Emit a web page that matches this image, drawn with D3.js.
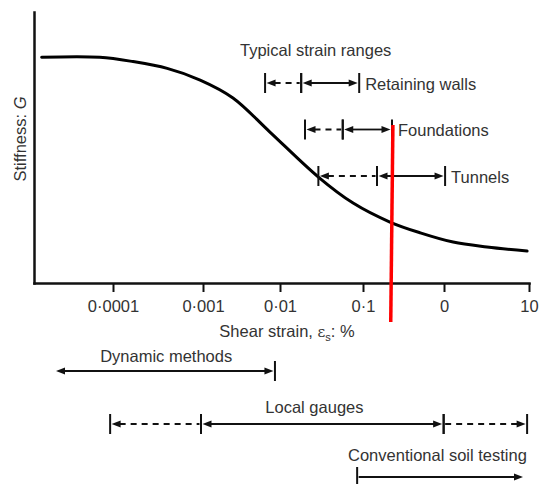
<!DOCTYPE html>
<html>
<head>
<meta charset="utf-8">
<script src="https://cdn.jsdelivr.net/npm/d3@7"></script>
<style>
  body { margin: 0; background: #fff; }
  svg { display: block; }
  text { font-family: "Liberation Sans", Arial, sans-serif; }
</style>
</head>
<body>
<svg id="chart" width="540" height="484"></svg>
<script>
// Shear-strain axis (log, %)
const strainTicks = [1e-4, 1e-3, 1e-2, 0.1, 1, 10];
const tickLabels = ["0·0001", "0·001", "0·01", "0·1", "0", "10"];

// Stiffness degradation curve (normalised G against shear strain %)
const curveStrain    = [1.25e-5, 6.8e-5, 1.67e-4, 4.0e-4, 9.3e-4, 2.45e-3, 7.4e-3, 0.029, 0.076, 0.215, 0.51, 1.28, 3.2, 9.5];
const curveStiffness = [0.833, 0.833, 0.817, 0.792, 0.749, 0.683, 0.557, 0.391, 0.295, 0.225, 0.185, 0.151, 0.133, 0.118];

// Red marker line (strain %, normalised G) at its two ends
const markerStrain    = [0.234, 0.22];
const markerStiffness = [0.583, -0.144];

// Typical strain ranges of structures: dashed from start to mid, solid from mid to end
const rangeNames  = ["Retaining walls", "Foundations", "Tunnels"];
const rangeStart  = [0.0064, 0.020, 0.029];
const rangeMid    = [0.018, 0.057, 0.149];
const rangeEnd    = [0.09, 0.228, 1.03];

// Measuring methods and the strain spans they cover
const methodNames   = ["Dynamic methods", "Local gauges", "Conventional soil testing"];
const methodLabelAt = [3.9e-4, 0.026, 0.83];
const methodSegments = [
  { row: 0, from: 1.9e-5,  to: 0.0086, dashed: false, headFrom: true,  headTo: true,  tickFrom: false, tickTo: true },
  { row: 1, from: 9.2e-5,  to: 9.5e-4, dashed: true,  headFrom: true,  headTo: false, tickFrom: true,  tickTo: true },
  { row: 1, from: 9.5e-4,  to: 0.99,   dashed: false, headFrom: true,  headTo: true,  tickFrom: true,  tickTo: true },
  { row: 1, from: 0.99,    to: 9.5,    dashed: true,  headFrom: false, headTo: true,  tickFrom: true,  tickTo: true },
  { row: 2, from: 0.085,   to: 8.5,    dashed: false, headFrom: false, headTo: true,  tickFrom: true,  tickTo: false }
];

const svg = d3.select("#chart");
const FONT = 16.5, TEXT = "#333", INK = "#111";

// Hand-spaced log axis: each decade gets its own span
const x = d3.scaleLog()
  .domain([1e-5, 1e-4, 1e-3, 1e-2, 0.1, 1, 10])
  .range([34, 113, 203, 280, 363, 444, 529]);
const y = d3.scaleLinear().domain([0, 1]).range([283, 12]);

const rangeRow  = d3.scalePoint().domain(rangeNames).range([83, 176]);
const methodRow = d3.scalePoint().domain(methodNames).range([371, 477]);
const methodLabelLift = [9, 11, 16];

// Axes
const xAxis = svg.append("g")
  .attr("transform", `translate(0,${y(0)})`)
  .call(d3.axisBottom(x).tickValues(strainTicks)
    .tickFormat((d, i) => tickLabels[i]).tickSize(9).tickSizeOuter(0));
xAxis.select(".domain").attr("stroke", INK).attr("stroke-width", 2.5).attr("stroke-linecap", "square");
xAxis.selectAll(".tick line").attr("stroke", INK).attr("stroke-width", 2);
xAxis.selectAll(".tick text").attr("y", 29).attr("dy", 0)
  .attr("font-size", FONT).attr("fill", TEXT).attr("font-family", "Liberation Sans, Arial, sans-serif");

const yAxis = svg.append("g")
  .attr("transform", `translate(${x.range()[0]},0)`)
  .call(d3.axisLeft(y).tickValues([]).tickSizeOuter(0));
yAxis.select(".domain").attr("stroke", INK).attr("stroke-width", 2.5).attr("stroke-linecap", "square");

// Axis titles
const xt = svg.append("text").attr("x", 287).attr("y", 337)
  .attr("text-anchor", "middle").attr("font-size", FONT).attr("fill", TEXT);
xt.append("tspan").text("Shear strain, ");
xt.append("tspan").text("ε").attr("font-family", "DejaVu Serif, serif").attr("font-size", 15);
xt.append("tspan").text("s").attr("font-size", 11).attr("dy", 4);
xt.append("tspan").text(": %").attr("dy", -4);

const yt = svg.append("text").attr("transform", "translate(26,139) rotate(-90)")
  .attr("text-anchor", "middle").attr("font-size", FONT).attr("fill", TEXT);
yt.append("tspan").text("Stiffness: ");
yt.append("tspan").text("G").attr("font-style", "italic");

// Stiffness curve
const curvePts = curveStrain.map((s, i) => [x(s), y(curveStiffness[i])]);
svg.append("path")
  .attr("d", d3.line().curve(d3.curveCatmullRom.alpha(0.5))(curvePts))
  .attr("fill", "none").attr("stroke", "#000").attr("stroke-width", 3).attr("stroke-linecap", "round");

// Arrow primitives
function head(g, tipX, cy, dir) {
  const L = 9, W = 3.6;
  g.append("path")
    .attr("d", `M${tipX},${cy}L${tipX - dir * L},${cy - W}L${tipX - dir * L},${cy + W}Z`)
    .attr("fill", INK);
}
function tick(g, tx, cy, half) {
  g.append("line").attr("x1", tx).attr("x2", tx).attr("y1", cy - half).attr("y2", cy + half)
    .attr("stroke", INK).attr("stroke-width", 2);
}
function segment(g, seg, cy) {
  const a = x(seg.from), b = x(seg.to);
  const ia = seg.tickFrom ? 1.5 : 0, ib = seg.tickTo ? 1.5 : 0;
  const x0 = a + ia + (seg.headFrom ? 8 : 0), x1 = b - ib - (seg.headTo ? 8 : 0);
  g.append("line").attr("x1", x0).attr("x2", x1).attr("y1", cy).attr("y2", cy)
    .attr("stroke", INK).attr("stroke-width", 1.8)
    .attr("stroke-dasharray", seg.dashed ? "6,5" : null);
  if (seg.headFrom) head(g, a + ia, cy, -1);
  if (seg.headTo) head(g, b - ib, cy, 1);
  if (seg.tickFrom) tick(g, a, cy, 10);
  if (seg.tickTo) tick(g, b, cy, 10);
}

// Typical strain ranges
const ranges = svg.append("g");
ranges.append("text").attr("x", 240).attr("y", 56)
  .attr("font-size", FONT).attr("fill", TEXT).text("Typical strain ranges");
rangeNames.forEach((name, i) => {
  const cy = rangeRow(name);
  segment(ranges, { from: rangeStart[i], to: rangeMid[i], dashed: true, headFrom: true, headTo: false, tickFrom: true, tickTo: true }, cy);
  segment(ranges, { from: rangeMid[i], to: rangeEnd[i], dashed: false, headFrom: true, headTo: true, tickFrom: true, tickTo: true }, cy);
  ranges.append("text").attr("x", x(rangeEnd[i]) + 6).attr("y", cy).attr("dy", "0.4em")
    .attr("font-size", FONT).attr("fill", TEXT).text(name);
});

// Red marker line
svg.append("line")
  .attr("x1", x(markerStrain[0])).attr("y1", y(markerStiffness[0]))
  .attr("x2", x(markerStrain[1])).attr("y2", y(markerStiffness[1]))
  .attr("stroke", "#ff0000").attr("stroke-width", 3.5);

// Measuring methods
const methods = svg.append("g");
methodSegments.forEach(seg => segment(methods, seg, methodRow(methodNames[seg.row])));
methodNames.forEach((name, i) => {
  methods.append("text").attr("x", x(methodLabelAt[i])).attr("y", methodRow(name) - methodLabelLift[i])
    .attr("text-anchor", "middle").attr("font-size", FONT).attr("fill", TEXT).text(name);
});
</script>
</body>
</html>
